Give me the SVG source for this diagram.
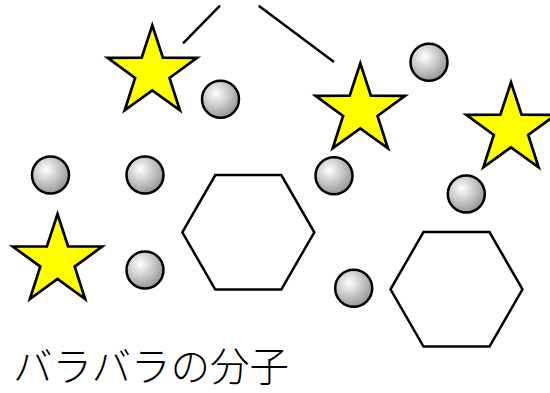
<svg xmlns="http://www.w3.org/2000/svg" width="550" height="393" viewBox="0 0 550 393">
<style>
.star{fill:#ffff00;stroke:#000;stroke-width:2.7;stroke-linejoin:miter}
.ball{fill:url(#g);stroke:#000;stroke-width:2.5}
.hex{fill:#fff;stroke:#000;stroke-width:2.5}
.ln{stroke:#000;stroke-width:2.5;fill:none}
.lbl{font-family:"Noto Sans CJK JP","Noto Sans",sans-serif;font-size:39.5px;font-weight:300;fill:#000}
</style>
<defs>
<radialGradient id="g" cx="0.38" cy="0.35" r="0.65" fx="0.38" fy="0.35">
<stop offset="0" stop-color="#ffffff"/>
<stop offset="1" stop-color="#999999"/>
</radialGradient>
<polygon id="st" points="0,-47 10.6,-14.6 44.7,-14.5 17.2,5.6 27.6,38 0,18 -27.6,38 -17.2,5.6 -44.7,-14.5 -10.6,-14.6"/>
<circle id="bl" r="18.5"/>
<polygon id="hx" points="-66,0 -33,-57.2 33,-57.2 66,0 33,57.2 -33,57.2"/>
</defs>
<g id="connectors">
<line class="ln" x1="183" y1="43.3" x2="220" y2="5.7"/>
<line class="ln" x1="258.7" y1="5.7" x2="334" y2="62"/>
</g>
<g id="star1"><use href="#st" class="star" x="152.3" y="72.3"/></g>
<g id="star2"><use href="#st" class="star" x="360.3" y="110.3"/></g>
<g id="star3"><use href="#st" class="star" x="511" y="129.3"/></g>
<g id="star4"><use href="#st" class="star" x="57.5" y="261"/></g>
<g id="ball1"><use href="#bl" class="ball" x="220.5" y="99.3"/></g>
<g id="ball2"><use href="#bl" class="ball" x="429" y="62.3"/></g>
<g id="ball3"><use href="#bl" class="ball" x="50.5" y="175"/></g>
<g id="ball4"><use href="#bl" class="ball" x="145" y="175"/></g>
<g id="ball5"><use href="#bl" class="ball" x="334" y="175.7"/></g>
<g id="ball6"><use href="#bl" class="ball" x="466.3" y="194"/></g>
<g id="ball7"><use href="#bl" class="ball" x="145" y="270"/></g>
<g id="ball8"><use href="#bl" class="ball" x="353.7" y="288.3"/></g>
<g id="hex1"><use href="#hx" class="hex" x="248.3" y="232.3"/></g>
<g id="hex2"><use href="#hx" class="hex" x="456.5" y="289.3"/></g>
<text class="lbl" x="13" y="381">バラバラの分子</text>
</svg>
